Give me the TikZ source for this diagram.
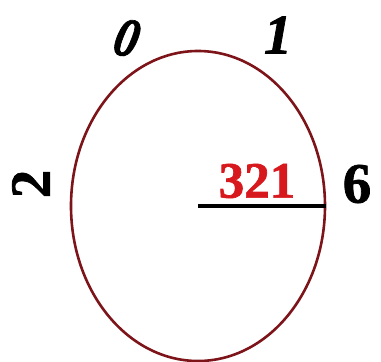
\documentclass[tikz,border=0pt]{standalone}
\usepackage{fontspec}
\setmainfont{Liberation Serif}
\newfontface\heavy[FakeBold=1.3]{Liberation Serif Bold}
\newfontface\heavyit[FakeBold=1.3]{Liberation Serif Bold Italic}
\usetikzlibrary{shapes.geometric}
\definecolor{rim}{RGB}{125,20,25}
\definecolor{numred}{RGB}{215,25,30}
\begin{document}
\begin{tikzpicture}[x=1pt,y=-1pt,
  digit/.style={inner sep=0pt,font=\fontsize{57}{57}\heavy},
  slantdigit/.style={inner sep=0pt,font=\fontsize{56}{56}\heavyit},
  reddigit/.style={inner sep=0pt,text=numred,font=\fontsize{51}{51}\heavy}]
\useasboundingbox (0,0) rectangle (381,362);
\node[ellipse,draw=rim,line width=2.6pt,minimum width=254pt,minimum height=310pt,inner sep=0pt] (e) at (198,206) {};
\node[slantdigit,rotate=-14,xscale=0.85] (d0) at (127,38) {0};
\node[slantdigit] (d1) at (278,35) {1};
\node[digit,rotate=90] (d2) at (31,184) {2};
\node[digit] (d6) at (357,184) {6};
\node[reddigit] (n321) at (257,181) {321};
\draw[line width=3.6pt] (e.center) -- (e.east);
\end{tikzpicture}
\end{document}
